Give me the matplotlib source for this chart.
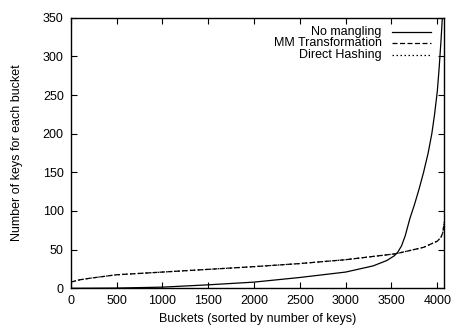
import matplotlib
matplotlib.use("Agg")
import matplotlib.pyplot as plt

# No mangling (sorted bucket sizes)
nm_x = [0, 500, 1000, 1500, 2000, 2500, 3000, 3300, 3450, 3530, 3570, 3610, 3650, 3700, 3750, 3800, 3850, 3900, 3940, 3970, 4000, 4020, 4040, 4055, 4076]
nm_y = [0, 0.3, 1.5, 4.5, 8, 14, 21, 29, 36, 42, 47, 55, 68, 90, 108, 128, 150, 175, 200, 225, 255, 285, 320, 350, 380]

# MM Transformation
mm_x = [0, 100, 208, 500, 1000, 1500, 2000, 2500, 3000, 3500, 3560, 3850, 4000, 4040, 4060, 4076]
mm_y = [8, 11, 13, 17.5, 21, 24.5, 28, 32, 37, 44, 45, 53, 61, 66, 72, 86]

# Direct Hashing
dh_x = [0, 100, 208, 500, 1000, 1500, 2000, 2500, 3000, 3500, 3560, 3850, 4000, 4040, 4060, 4076]
dh_y = [8, 11, 13, 17.5, 21, 24.5, 28, 32, 37, 44, 45, 53, 61, 66, 72, 86]

labels = ["No mangling", "MM Transformation", "Direct Hashing"]
xticks = [0, 500, 1000, 1500, 2000, 2500, 3000, 3500, 4000]
yticks = [0, 50, 100, 150, 200, 250, 300, 350]

plt.rcParams['font.family'] = ['Liberation Sans', 'DejaVu Sans']
plt.rcParams['font.size'] = 9

fig = plt.figure(figsize=(4.54, 3.29), dpi=100)
ax = fig.add_axes([0.1557, 0.1237, 0.9786 - 0.1557, 0.9462 - 0.1237])

styles = [dict(ls='-', lw=0.9), dict(ls=(0, (4, 2)), lw=0.9), dict(ls=(0, (1.2, 2)), lw=0.9)]
series = [(nm_x, nm_y), (mm_x, mm_y), (dh_x, dh_y)]
for (xs, ys), st in zip(series, styles):
    ax.plot(xs, ys, color='black', **st)

ax.set_xlim(0, 4076)
ax.set_ylim(0, 350)
ax.set_xticks(xticks)
ax.set_yticks(yticks)
ax.tick_params(direction='in', length=4, width=0.8, top=True, right=True, pad=5)
for s in ax.spines.values():
    s.set_linewidth(1.0)

ax.set_xlabel("Buckets (sorted by number of keys)", labelpad=4)
ax.set_ylabel("Number of keys for each bucket", labelpad=14)

# key (gnuplot style: right-justified text, sample on right)
ys_px = [31.7, 43.0, 54.5]
for i, (lab, st) in enumerate(zip(labels, styles)):
    yf = 1 - (ys_px[i] - 17.7) / 270.6
    xt = (381.7 - 70.7) / 373.6
    ax.text(xt, yf, lab, transform=ax.transAxes, ha='right', va='center')
    x0 = (391.7 - 70.7) / 373.6
    x1 = (430.7 - 70.7) / 373.6
    ax.plot([x0, x1], [yf, yf], transform=ax.transAxes, color='black', clip_on=False, **st)

fig.savefig("out.png", dpi=100)
